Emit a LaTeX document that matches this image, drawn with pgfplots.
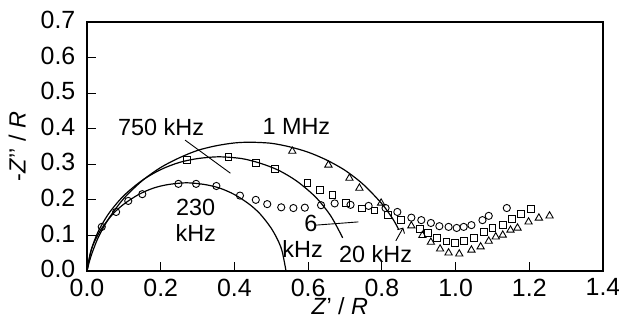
\documentclass[border=0pt]{standalone}
\usepackage{pgfplots}
\pgfplotsset{compat=1.18}
\usetikzlibrary{arrows.meta}
\usepackage{fontspec}
\setmainfont{Liberation Sans}
\newcommand{\ff}{\fontsize{23.5}{25}\selectfont}
\newcommand{\ft}{\fontsize{25}{26}\selectfont}
\begin{document}
\begin{tikzpicture}
\path[use as bounding box] (0,0) rectangle (619bp,320bp);
\begin{axis}[
  at={(87bp,49bp)}, anchor=south west,
  scale only axis, width=516bp, height=249bp,
  xmin=0, xmax=1.4, ymin=0, ymax=0.7,
  xtick={0,0.2,...,1.4}, ytick={0,0.1,...,0.7},
  axis line style={line width=1.7bp},
  tick style={line width=1.1bp, black},
  major tick length=9bp,
  tick align=inside,
  xtick pos=bottom, ytick pos=left,
  /pgf/number format/assume math mode=true,
  /pgf/number format/.cd, fixed, fixed zerofill, precision=1, /pgfplots/.cd,
  ticklabel style={font=\ft, inner sep=0.5bp},
  xticklabel style={yshift=-7bp},
  yticklabel style={xshift=-11bp, yshift=2bp},
  label style={font=\ff},
  xlabel={\textit{Z}\textquoteright\ / \textit{R}},
  ylabel={-\textit{Z}\textquoteright\textquoteright\ / \textit{R}},
  xlabel style={at={(axis description cs:0.49,-0.14)}, anchor=center, inner sep=0pt},
  ylabel style={at={(axis description cs:-0.135,0.5)}, anchor=center, inner sep=0pt},
  clip=false,
]
% 230 kHz circles
\addplot[only marks, mark=o, mark size=3.6bp, line width=0.9bp] coordinates {
(0.040,0.124) (0.079,0.166) (0.112,0.197) (0.150,0.216) (0.248,0.245)
(0.296,0.245) (0.351,0.239) (0.415,0.212) (0.458,0.200) (0.489,0.188)
(0.527,0.179) (0.560,0.177) (0.591,0.178) (0.635,0.185) (0.672,0.190)
(0.715,0.186) (0.764,0.183) (0.810,0.177) (0.842,0.166) (0.880,0.150)
(0.907,0.143) (0.933,0.135) (0.956,0.126) (0.981,0.124) (1.003,0.121)
(1.022,0.124) (1.043,0.129) (1.073,0.143) (1.090,0.155) (1.139,0.177)
};
% 750 kHz squares
\addplot[only marks, mark=square, mark size=3.4bp, line width=0.9bp] coordinates {
(0.272,0.312) (0.384,0.320) (0.459,0.304) (0.511,0.287) (0.598,0.247)
(0.633,0.227) (0.666,0.214) (0.703,0.192) (0.745,0.176) (0.780,0.170)
(0.816,0.157) (0.852,0.143) (0.903,0.118) (0.926,0.107) (0.950,0.093)
(0.975,0.083) (0.999,0.079) (1.022,0.084) (1.049,0.093) (1.076,0.110)
(1.100,0.121) (1.128,0.129) (1.152,0.146) (1.177,0.160) (1.204,0.174)
};
% 1 MHz triangles
\addplot[only marks, mark=triangle, mark size=4.2bp, line width=0.9bp] coordinates {
(0.557,0.337) (0.655,0.298) (0.712,0.261) (0.739,0.233) (0.798,0.191)
(0.880,0.127) (0.910,0.100) (0.933,0.081) (0.958,0.062) (0.981,0.051)
(1.010,0.048) (1.043,0.059) (1.068,0.068) (1.090,0.084) (1.109,0.096)
(1.128,0.101) (1.149,0.115) (1.168,0.121) (1.198,0.138) (1.226,0.149)
(1.255,0.155)
};
% fitted arcs
\addplot[smooth, no marks, line width=1.2bp] coordinates {
(0,0) (0.01,0.053) (0.02,0.082) (0.04,0.120) (0.07,0.160) (0.10,0.188)
(0.14,0.215) (0.18,0.233) (0.22,0.243) (0.27,0.248) (0.32,0.243)
(0.36,0.233) (0.40,0.215) (0.44,0.188) (0.47,0.160) (0.50,0.120)
(0.52,0.082) (0.53,0.053) (0.54,0)
};
\addplot[smooth, no marks, line width=1.2bp] coordinates {
(0,0) (0.01,0.054) (0.03,0.110) (0.06,0.163) (0.10,0.212) (0.15,0.255)
(0.20,0.285) (0.25,0.305) (0.30,0.316) (0.358,0.321) (0.42,0.316)
(0.47,0.303) (0.52,0.283) (0.57,0.252) (0.62,0.208) (0.66,0.157)
(0.69,0.101) (0.693,0.093)
};
\addplot[smooth, no marks, line width=1.2bp] coordinates {
(0,0) (0.01,0.039) (0.03,0.093) (0.06,0.149) (0.10,0.204) (0.15,0.254)
(0.20,0.291) (0.25,0.318) (0.30,0.339) (0.35,0.352) (0.40,0.360)
(0.444,0.362) (0.50,0.359) (0.55,0.349) (0.60,0.334) (0.65,0.312)
(0.70,0.283) (0.75,0.243) (0.80,0.189) (0.83,0.146) (0.845,0.118)
};
% leader lines
\draw[line width=0.9bp] (axis cs:0.266,0.368) -- (axis cs:0.389,0.275);
\draw[line width=0.9bp] (axis cs:0.622,0.129) -- (axis cs:0.736,0.138);
\draw[line width=0.9bp,-{Straight Barb[length=4bp]}] (axis cs:0.838,0.085) -- (axis cs:0.858,0.122);
% labels
\node[font=\ff] at (axis cs:0.201,0.405) {750 kHz};
\node[font=\ff] at (axis cs:0.568,0.405) {1 MHz};
\node[font=\ff, align=center] at (axis cs:0.295,0.142) {230\\[1bp]kHz};
\node[font=\ff, align=center] at (axis cs:0.585,0.097) {\hspace*{0.7em}6\\[1bp]kHz};
\node[font=\ff] at (axis cs:0.783,0.048) {20 kHz};
\end{axis}
\end{tikzpicture}
\end{document}
